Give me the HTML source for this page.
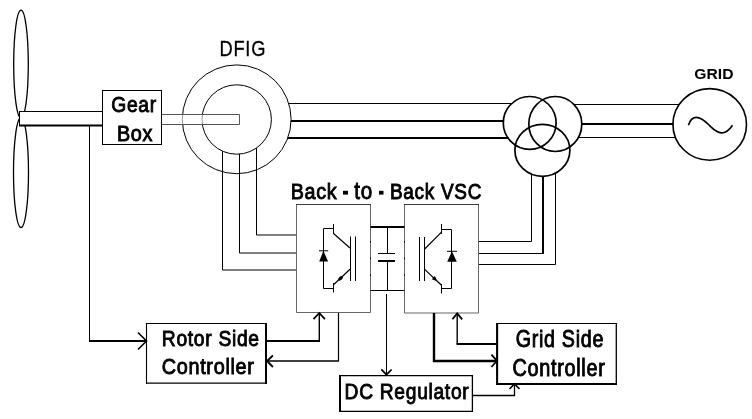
<!DOCTYPE html>
<html><head><meta charset="utf-8"><style>
html,body{margin:0;padding:0;background:#fff;width:752px;height:419px;overflow:hidden}
svg{display:block;will-change:transform}
text{font-family:"Liberation Sans",sans-serif;fill:#000}
</style></head><body>
<svg width="752" height="419" viewBox="0 0 752 419">
<g fill="none" stroke="#000" stroke-width="1">
<!-- turbine blades -->
<ellipse cx="21" cy="64.2" rx="7.3" ry="54" stroke-width="1.3"/>
<ellipse cx="21" cy="172.5" rx="7.5" ry="55" stroke-width="1.3"/>
<!-- shaft -->
<rect x="19.5" y="111.5" width="83" height="14" fill="#fff" stroke="none"/>
<line x1="19" y1="111.5" x2="102" y2="111.5"/>
<line x1="19" y1="125.5" x2="102" y2="125.5" stroke-width="2"/>
<line x1="19.5" y1="111" x2="19.5" y2="126"/>
<!-- gear box -->
<rect x="102.5" y="90.5" width="59" height="54"/>
<!-- rotor controller feed -->
<line x1="89.5" y1="125" x2="89.5" y2="341"/>
<line x1="89" y1="341" x2="146" y2="341" stroke-width="2"/>
<polyline points="138,332.5 146.5,341 138,349.5" stroke-width="1.6"/>
<!-- DFIG to transformer lines -->
<line x1="285" y1="103.5" x2="512" y2="103.5" stroke-width="1.1"/>
<line x1="285" y1="121" x2="504" y2="121" stroke-width="2"/>
<line x1="285" y1="138" x2="508.5" y2="138" stroke-width="2"/>
<!-- DFIG -->
<circle cx="236.7" cy="119.3" r="54.4" fill="#fff" stroke-width="1"/>
<circle cx="236.7" cy="119.5" r="34.7" stroke-width="1"/>
<path d="M162 114.5 H239.5 V124.5 H162" stroke="#555" fill="#fff" fill-opacity="0.6"/>
<!-- DFIG to left VSC -->
<path d="M222.5 151 V270 H296"/>
<path d="M239.5 154 V253 H296"/>
<path d="M256.5 148 V235 H296"/>
<!-- transformer -->
<circle cx="529.7" cy="122.9" r="26.4" stroke-width="1.7"/>
<ellipse cx="555.3" cy="124" rx="26.5" ry="27.5" stroke-width="1.7"/>
<ellipse cx="542.4" cy="150.3" rx="27.5" ry="26" stroke-width="1.7"/>
<!-- transformer to grid -->
<line x1="573.5" y1="104.5" x2="679.5" y2="104.5"/>
<line x1="581.5" y1="124" x2="673.5" y2="124" stroke-width="2"/>
<line x1="578" y1="137.5" x2="676" y2="137.5"/>
<!-- transformer to right VSC -->
<path d="M531.5 174 V241.5 H478.5"/>
<path d="M543 176 V253.5" stroke-width="2"/><path d="M544 253.5 H478.5" stroke-width="1.2"/>
<path d="M555.5 173 V264.5 H478.5"/>
<!-- grid -->
<ellipse cx="709.7" cy="124.4" rx="36.8" ry="35.8" stroke-width="1.6"/>
<path d="M688.4,125.2 C690.5,119 693,117.4 696.2,117.4 C701,117.4 706,122 709,125 C712,128 716.5,132.9 721.5,132.9 C726,132.9 730,129 732.5,125.2" stroke-width="1.6"/>
<!-- VSC boxes -->
<path d="M296.5 204.5 V312.5 H370.5 V204.5" stroke="#666"/><path d="M296 204.5 H371" stroke="#3a3a3a"/>
<path d="M404.5 204.5 V313 H478.5 V204.5" stroke="#666"/><path d="M404 204.5 H479" stroke="#3a3a3a"/>
<!-- DC link -->
<g stroke="none" fill="#000"><rect x="370" y="241" width="1" height="1.5"/><rect x="370" y="257.7" width="1" height="1.5"/><rect x="370" y="274.5" width="1" height="1.5"/><rect x="404" y="241" width="1" height="1.5"/><rect x="404" y="257.7" width="1" height="1.5"/><rect x="404" y="274.5" width="1" height="1.5"/></g>
<line x1="370.5" y1="227" x2="404.5" y2="227" stroke-width="2"/>
<line x1="370.5" y1="290.5" x2="404.5" y2="290.5"/>
<line x1="387.5" y1="227" x2="387.5" y2="253.5"/>
<line x1="387.5" y1="261" x2="387.5" y2="290.5"/>
<line x1="378" y1="253.5" x2="395" y2="253.5"/>
<line x1="378" y1="261" x2="395" y2="261" stroke-width="2"/>
<line x1="386.5" y1="294" x2="386.5" y2="375"/>
<polyline points="381.3,369.3 386.5,374.7 391.6,369.5" stroke-width="1.7"/>
<!-- left IGBT -->
<path d="M333.5 228.5 H323.5 V288.5 H333.5"/>
<line x1="333.5" y1="224" x2="333.5" y2="234"/>
<line x1="333.5" y1="283" x2="333.5" y2="292.5"/>
<line x1="333.5" y1="233.5" x2="350" y2="248" stroke-width="1.2"/>
<line x1="350" y1="269.3" x2="333.5" y2="284.8" stroke-width="1.2"/>
<line x1="350.5" y1="236.5" x2="350.5" y2="281"/>
<line x1="355.5" y1="236.5" x2="355.5" y2="281"/>
<line x1="319" y1="250.8" x2="328.2" y2="250.8"/>
<!-- right IGBT -->
<path d="M441.5 229.5 H451.5 V288.5 H441.5"/>
<line x1="441.5" y1="224" x2="441.5" y2="234"/>
<line x1="441.5" y1="284" x2="441.5" y2="293.5"/>
<line x1="424.7" y1="249" x2="441.5" y2="232.2" stroke-width="1.2"/>
<line x1="424.7" y1="269.4" x2="441.5" y2="285.3" stroke-width="1.2"/>
<line x1="419.5" y1="237" x2="419.5" y2="281"/>
<line x1="424.5" y1="237" x2="424.5" y2="281"/>
<line x1="447" y1="251.3" x2="457" y2="251.3"/>
<!-- rotor side controller -->
<path d="M146 323.5 H267" stroke-width="1.2"/><path d="M146.5 323 V384" stroke-width="1.1"/><path d="M266 323 V384" stroke-width="2"/><path d="M146 383.2 H267" stroke-width="1.2"/>
<path d="M266 341 H320" stroke-width="2"/><path d="M319.3 341.5 V313" stroke-width="1.4"/>
<polyline points="313.5,319.2 319.3,313 324.9,319.2" stroke-width="1.8"/>
<path d="M338.5 313 V361" stroke-width="1.2"/><path d="M339 361 H267" stroke-width="1.5"/>
<polyline points="272.9,355.5 267,361 272.9,367" stroke-width="1.8"/>
<!-- DC regulator -->
<path d="M339 375.6 H473" stroke-width="1.2"/><path d="M340 375 V412" stroke-width="2"/><path d="M472.4 375 V412" stroke-width="1.3"/><path d="M339 411.3 H473" stroke-width="1.2"/>
<path d="M473 395.5 H514.5 V384" stroke-width="1.3"/>
<polyline points="509.5,389 514.5,384 519.5,389" stroke-width="1.6"/>
<!-- grid side controller -->
<path d="M496 323.5 H617" stroke-width="1.2"/><path d="M497.1 323 V385" stroke-width="2.1"/><path d="M616.3 323 V385" stroke-width="1.3"/><path d="M496 384 H617" stroke-width="2"/>
<path d="M434 313 V361 H496" stroke-width="2.4"/>
<polyline points="491.4,354.6 497,360.8 491.4,367" stroke-width="1.8"/>
<path d="M457.2 313 V344" stroke-width="1.4"/><path d="M456.5 344 H496" stroke-width="2"/>
<polyline points="452.4,319.3 457.2,313.5 462.2,319.3" stroke-width="1.8"/>
</g>
<g fill="#000" stroke="none">
<polygon points="323.4,250.8 319.2,261.4 328.1,261.4"/>
<polygon points="452,251.3 447.2,261.8 456.8,261.8"/>
<ellipse cx="340.6" cy="278.3" rx="2.8" ry="1.7" transform="rotate(-43 340.6 278.3)"/>
<polygon points="437.3,281.3 431.8,279.3 434.9,275.9"/>
</g>
<g>
<rect x="343" y="190.8" width="5" height="3.8"/><rect x="379" y="190.8" width="4.5" height="3.8"/>
<text id="gear" transform="matrix(0.9640 0 0 1.0951 111.26 112.26)" font-size="20" font-weight="normal" letter-spacing="0.726" stroke="#000" stroke-width="0.826">Gear</text>
<text id="box" transform="matrix(0.9923 0 0 1.1036 116.94 140.55)" font-size="20" font-weight="normal" letter-spacing="0.705" stroke="#000" stroke-width="0.811">Box</text>
<text id="dfig" transform="matrix(0.9150 0 0 1.0915 219.59 55.83)" font-size="20" font-weight="normal" letter-spacing="0.765" stroke="#000" stroke-width="0.299">DFIG</text>
<text id="grid" transform="matrix(0.7826 0 0 0.7394 694.37 78.75)" font-size="20" font-weight="bold" letter-spacing="0.000">GRID</text>
<text id="btb1" transform="matrix(0.9872 0 0 1.1076 290.75 198.55)" font-size="20" font-weight="normal" letter-spacing="0.709" stroke="#000" stroke-width="0.812">Back</text>
<text id="btb2" transform="matrix(1.0290 0 0 1.1718 354.32 198.54)" font-size="20" font-weight="normal" letter-spacing="0.680" stroke="#000" stroke-width="0.772">to</text>
<text id="btb3" transform="matrix(0.9498 0 0 1.1076 389.91 198.55)" font-size="20" font-weight="normal" letter-spacing="0.737" stroke="#000" stroke-width="0.826">Back VSC</text>
<text id="rs1" transform="matrix(0.9636 0 0 1.1285 161.78 345.75)" font-size="20" font-weight="normal" letter-spacing="0.726" stroke="#000" stroke-width="0.813">Rotor Side</text>
<text id="rs2" transform="matrix(0.9924 0 0 1.1285 161.63 374.05)" font-size="20" font-weight="normal" letter-spacing="0.705" stroke="#000" stroke-width="0.802">Controller</text>
<text id="dc" transform="matrix(0.9610 0 0 1.0799 344.59 399.36)" font-size="20" font-weight="normal" letter-spacing="0.728" stroke="#000" stroke-width="0.833">DC Regulator</text>
<text id="gs1" transform="matrix(0.9859 0 0 1.1632 515.64 347.44)" font-size="20" font-weight="normal" letter-spacing="0.710" stroke="#000" stroke-width="0.791">Grid Side</text>
<text id="gs2" transform="matrix(0.9924 0 0 1.1910 512.53 375.74)" font-size="20" font-weight="normal" letter-spacing="0.705" stroke="#000" stroke-width="0.779">Controller</text>
</g>
</svg>
</body></html>
